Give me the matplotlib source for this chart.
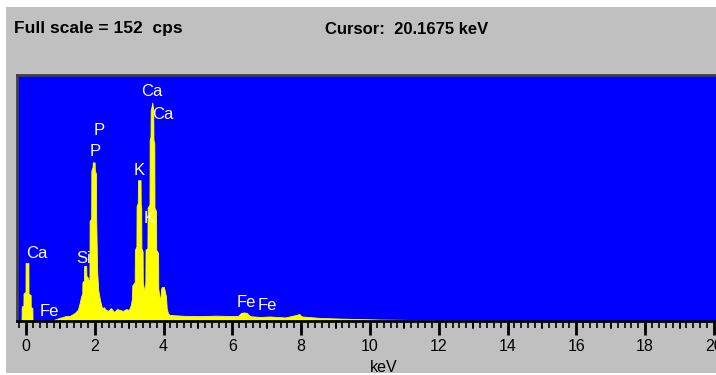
import matplotlib.pyplot as plt
from matplotlib.patches import Rectangle
from matplotlib.ticker import MultipleLocator

# spectrum (energy in keV, counts in cps)
# each line of energy_kev goes with the same line of counts_cps
energy_kev = [
    -0.13, -0.125, -0.075, -0.072, -0.015, -0.012, 0.07, 0.073, 0.135, 0.138, 0.185, 0.19,
    0.70, 0.85, 0.99, 1.15, 1.28, 1.42, 1.51,
    1.57, 1.60, 1.635, 1.64, 1.685, 1.69, 1.75, 1.755, 1.79, 1.82, 1.84,
    1.845, 1.85, 1.895, 1.90, 1.935, 1.94, 1.995, 2.0, 2.035, 2.04, 2.06, 2.07, 2.10, 2.15,
    2.21, 2.27, 2.30, 2.38, 2.47, 2.56, 2.65, 2.73, 2.82, 2.91, 2.99,
    3.05, 3.08, 3.09, 3.16, 3.165, 3.21, 3.215, 3.25, 3.255, 3.33, 3.335, 3.35, 3.355, 3.39, 3.395, 3.42, 3.44,
    3.46, 3.47, 3.475, 3.53, 3.535, 3.59, 3.595, 3.62, 3.625, 3.655, 3.67, 3.685, 3.70, 3.705, 3.73,
    3.735, 3.78, 3.785, 3.84, 3.845, 3.88, 3.90, 3.915, 3.93, 3.95, 4.01, 4.03, 4.07, 4.09, 4.13, 4.19,
    4.6, 5.06, 5.5, 6.16, 6.25, 6.34, 6.42, 6.51, 6.8, 7.09, 7.53, 7.85, 7.94, 8.02,
    8.55, 9.13, 10.29, 11.45, 12.9, 14.65, 14.9,
]
counts_cps = [
    0, 9, 9.5, 17, 18, 35.8, 35.8, 17, 16, 8.7, 8, 0,
    0, 1.0, 2.0, 3.0, 3.2, 5.0, 7,
    12, 15, 17, 24, 25, 34, 34, 28, 27, 25, 24,
    30, 62, 63, 93, 95, 98, 98, 93, 91, 63, 40, 30, 19, 13,
    8, 8.5, 7.4, 6.2, 8, 5.6, 7.4, 6.8, 6.2, 7.4, 6.8,
    10, 14, 22, 24, 44, 46, 71, 73, 87, 87, 72, 70, 45, 43, 24, 21, 19,
    21, 24, 44, 45, 70, 72, 112, 114, 130, 133, 135, 133, 130, 112, 110,
    70, 68, 44, 42, 20, 15, 11, 16, 20, 21, 21, 19, 15, 8, 4.5, 3.7,
    3.2, 3, 3.3, 3, 5, 5.3, 5, 3, 2.5, 2.8, 2.2, 3.7, 4.3, 2.8,
    1.9, 1.5, 0.9, 0.6, 0.4, 0.3, 0,
]

# peak labels
label_text = ["Ca", "Fe", "Si", "P", "P", "K", "K", "Ca", "Ca", "Fe", "Fe"]
label_kev = [0.0, 0.41, 1.47, 1.96, 1.86, 3.12, 3.41, 3.36, 3.68, 6.12, 6.74]
label_cps = [41.4, 5.7, 38.7, 118, 104.7, 93.3, 63.6, 141.5, 127.9, 11.7, 9.3]

full_scale = 152
cursor_kev = 20.1675

plt.rcParams["font.family"] = ["Liberation Sans", "DejaVu Sans"]

fig = plt.figure(figsize=(7.16, 3.75), dpi=100, facecolor="white")
fig.patches.append(Rectangle((6 / 716, 2 / 375), 1, 1 - 9 / 375,
                             transform=fig.transFigure, facecolor="#c0c0c0",
                             edgecolor="none", zorder=-10))

fig.text(14 / 716, 1 - 29 / 375, f"Full scale = {full_scale}  cps",
         fontsize=12.5, fontweight="bold", va="center")
fig.text(325 / 716, 1 - 29 / 375, f"Cursor:  {cursor_kev} keV",
         fontsize=12, fontweight="bold", va="center")

ax = fig.add_axes([17 / 716, 54 / 375, 699 / 716, 246 / 375])
ax.set_facecolor("#0000ff")
ax.fill_between(energy_kev, counts_cps, color="#ffff00", lw=0.6,
                edgecolor="#ffff00", zorder=2)

for t, x, y in zip(label_text, label_kev, label_cps):
    ax.text(x, y, t, color="white", fontsize=12,
            ha="left", va="center", zorder=3)

ax.set_xlim(-0.262, 20.06)
ax.set_ylim(0, full_scale)
ax.set_yticks([])

ax.xaxis.set_major_locator(MultipleLocator(2))
ax.xaxis.set_minor_locator(MultipleLocator(0.2))
ax.tick_params(axis="x", which="major", length=10, width=2, color="black",
               pad=3, labelsize=11.5, labelcolor="black")
ax.tick_params(axis="x", which="minor", length=5, width=1.2, color="black")

# slightly longer ticks at odd keV
for k in range(1, 20, 2):
    ax.plot([k, k], [0, -7 / 246], transform=ax.get_xaxis_transform(),
            color="black", lw=1.2, clip_on=False)

ax.set_xlabel("keV", fontsize=11.5)
ax.xaxis.set_label_coords((384 - 17) / 699, (321 - 360) / 246)

ax.spines["right"].set_visible(False)
ax.spines["bottom"].set_color("black")
ax.spines["bottom"].set_linewidth(2)
ax.spines["left"].set_color("#404040")
ax.spines["left"].set_linewidth(2)
ax.spines["top"].set_color("#404040")
ax.spines["top"].set_linewidth(2)

fig.savefig("out.png", dpi=100, facecolor=fig.get_facecolor())
